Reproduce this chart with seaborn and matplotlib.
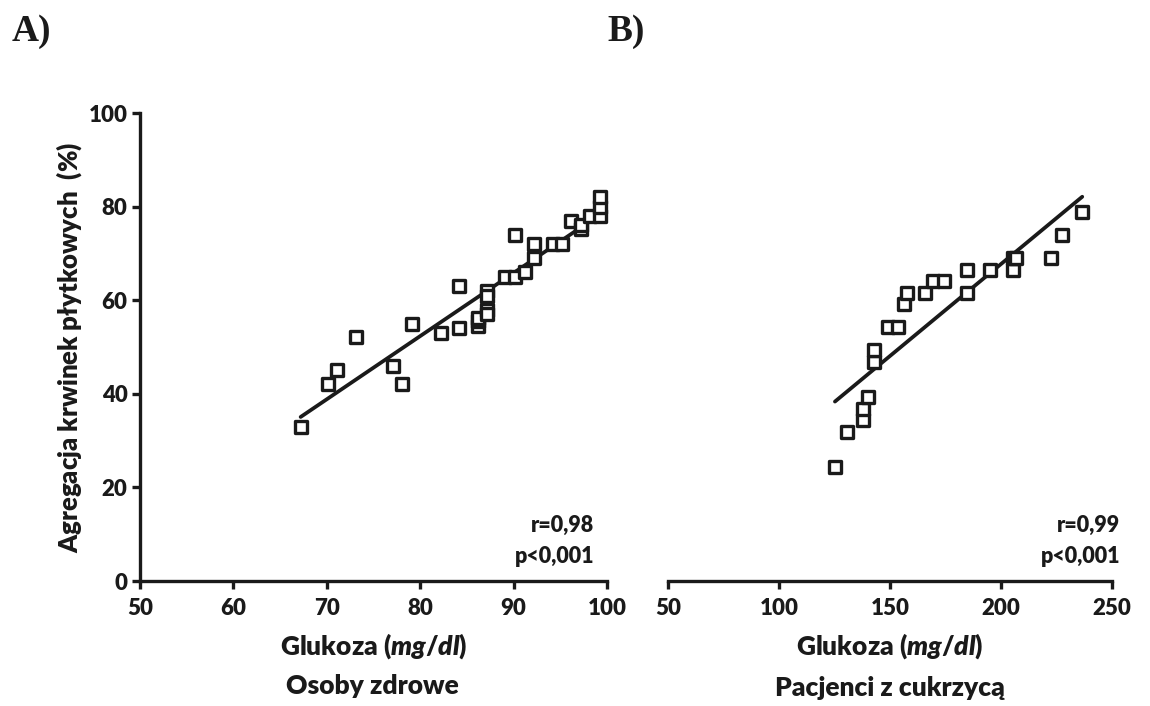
import matplotlib
matplotlib.use("Agg")
import matplotlib.pyplot as plt
import seaborn as sns
import pandas as pd

# Panel A: healthy subjects
glukoza_a = [67.2, 70.1, 71.1, 73.1, 77.1, 78.1, 79.1, 82.2, 84.2, 84.2,
             86.2, 86.2, 86.2, 87.2, 87.2, 87.2, 87.2, 89.1, 90.1, 90.1,
             91.2, 92.2, 92.2, 94.2, 95.2, 96.1, 97.2, 97.2, 98.2, 99.2,
             99.2, 99.2]
agregacja_a = [33.0, 42.2, 45.0, 52.1, 46.0, 42.2, 55.0, 53.0, 54.0, 63.0,
               54.5, 55.5, 56.3, 62.0, 61.0, 58.0, 57.0, 65.0, 65.0, 74.0,
               66.0, 69.0, 72.0, 72.0, 72.0, 77.0, 75.2, 76.0, 78.0, 78.0,
               80.0, 82.0]

# Panel B: diabetic patients
glukoza_b = [125.2, 130.5, 137.7, 137.7, 140.0, 143.0, 143.0, 149.0, 153.5,
             156.5, 157.5, 165.8, 169.2, 174.3, 184.5, 184.5, 195.0, 205.5,
             205.5, 206.8, 222.4, 227.5, 236.6]
agregacja_b = [24.4, 31.9, 34.4, 36.8, 39.3, 46.8, 49.3, 54.2, 54.2, 59.1,
               61.6, 61.6, 64.1, 64.1, 66.5, 61.6, 66.5, 66.5, 69.0, 69.0,
               69.0, 74.0, 78.9]

xticks_a = [50, 60, 70, 80, 90, 100]
xticks_b = [50, 100, 150, 200, 250]
yticks = [0, 20, 40, 60, 80, 100]
stats_a = ["r=0,98", "p<0,001"]
stats_b = ["r=0,99", "p<0,001"]

sns.set_style("ticks")
plt.rcParams['font.family'] = ['Lato', 'DejaVu Sans']
plt.rcParams['font.weight'] = 'heavy'
plt.rcParams['mathtext.fontset'] = 'custom'
plt.rcParams['mathtext.it'] = 'Lato:italic:heavy'
plt.rcParams['mathtext.rm'] = 'Lato:heavy'

INK = "#1a1a1a"
fig = plt.figure(figsize=(11.5, 7.06), dpi=100)
W, H = 1150, 706
axA = fig.add_axes([140 / W, 1 - 581 / H, (607 - 140) / W, (581 - 113) / H])
axB = fig.add_axes([668 / W, 1 - 581 / H, (1112 - 668) / W, (581 - 113) / H])

dfA = pd.DataFrame({"x": glukoza_a, "y": agregacja_a})
dfB = pd.DataFrame({"x": glukoza_b, "y": agregacja_b})

scatter_kws = dict(s=72, facecolors="white", edgecolors=INK,
                   linewidths=2.4, alpha=1, zorder=3, clip_on=False)
line_kws = dict(color=INK, lw=2.7, zorder=2)

for ax, df in ((axA, dfA), (axB, dfB)):
    sns.regplot(data=df, x="x", y="y", ax=ax, ci=None, marker="s",
                scatter_kws=scatter_kws, line_kws=line_kws, truncate=True)
    ax.set_ylim(0, 100)
    ax.set_xlabel("Glukoza $\\mathit{(mg/dl)}$", fontsize=19, fontweight="heavy",
                  labelpad=9, color=INK)
    ax.set_ylabel("")
    for sp in ("top", "right"):
        ax.spines[sp].set_visible(False)
    for sp in ("left", "bottom"):
        ax.spines[sp].set_linewidth(2.4)
        ax.spines[sp].set_color(INK)
    ax.tick_params(axis="both", width=2.4, length=6, labelsize=16,
                   colors=INK, pad=3)
    ax.tick_params(axis="x", pad=6)

axA.set_xlim(50, 100)
axA.set_xticks(xticks_a)
axA.set_yticks(yticks)
axA.set_ylabel("Agregacja krwinek płytkowych  $\\mathit{(\\%)}$", fontsize=18.5,
               fontweight="heavy", labelpad=3, color=INK)

axB.set_xlim(50, 250)
axB.set_xticks(xticks_b)
axB.set_yticks([])
axB.spines["left"].set_visible(False)

for ax in (axA, axB):
    for lbl in ax.get_xticklabels() + ax.get_yticklabels():
        lbl.set_fontweight("heavy")

for ax, stats, xr in ((axA, stats_a, 0.972), (axB, stats_b, 1.018)):
    ax.text(xr, (581 - 532) / 468, stats[0], transform=ax.transAxes, ha="right",
            va="baseline", fontsize=15.5, fontweight="heavy", color=INK)
    ax.text(xr, (581 - 563) / 468, stats[1], transform=ax.transAxes, ha="right",
            va="baseline", fontsize=15.5, fontweight="heavy", color=INK)

fig.text(372 / W, 1 - 694 / H, "Osoby zdrowe", ha="center", va="baseline",
         fontsize=19, fontweight="heavy", color=INK)
fig.text(890 / W, 1 - 696 / H, "Pacjenci z cukrzycą", ha="center", va="baseline",
         fontsize=19, fontweight="heavy", color=INK)

fig.text(12 / W, 1 - 41 / H, "A)", ha="left", va="baseline", fontsize=27,
         fontweight="bold", family=["Liberation Serif", "DejaVu Serif"], color=INK)
fig.text(607 / W, 1 - 41 / H, "B)", ha="left", va="baseline", fontsize=27,
         fontweight="bold", family=["Liberation Serif", "DejaVu Serif"], color=INK)

fig.savefig("out.png", dpi=100, facecolor="white")
